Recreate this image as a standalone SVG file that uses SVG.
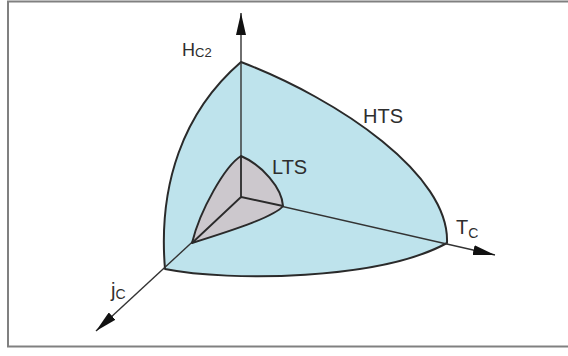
<svg xmlns="http://www.w3.org/2000/svg" width="568" height="356" viewBox="0 0 568 356">
  <style>
    .frame { fill: none; stroke: #808080; stroke-width: 2; }
    .hts { fill: #bee3ec; stroke: #2a2a2a; stroke-width: 2; stroke-linejoin: round; }
    .lts { fill: #ccc8cd; stroke: #2a2a2a; stroke-width: 2; stroke-linejoin: round; }
    .axis { fill: none; stroke: #333; stroke-width: 1.4; }
    .edge { fill: none; stroke: #2a2a2a; stroke-width: 1.8; }
    .lbl { font-family: "Liberation Sans", Arial, sans-serif; fill: #2e2e2e; }
  </style>
  <defs>
    <marker id="arrow" markerUnits="userSpaceOnUse" viewBox="0 0 22 10" refX="22" refY="5" markerWidth="22" markerHeight="10" orient="auto">
      <path d="M0,0 L22,5 L0,10 Z" fill="#111"/>
    </marker>
  </defs>
  <rect width="568" height="356" fill="#fff"/>
  <rect class="frame" x="8" y="1.5" width="570" height="345"/>

  <g id="hts-region">
    <path class="hts" d="M241,62 C340,100 450,175 447,243 C380,280 230,282 165,269 C158,185 183,112 241,62 Z"/>
  </g>

  <g id="connectors">
    <line class="axis" x1="241" y1="197" x2="241" y2="13" marker-end="url(#arrow)"/>
    <line class="axis" x1="241" y1="197" x2="495" y2="255" marker-end="url(#arrow)"/>
    <line class="axis" x1="241" y1="197" x2="96" y2="331" marker-end="url(#arrow)"/>
  </g>

  <g id="lts-region">
    <path class="lts" d="M241,156 C262,165 282,188 283,206 C275,216 240,228 192,243 C200,210 225,166 241,156 Z"/>
    <path class="edge" d="M241,156 L241,197 L283,206 M241,197 L192,243"/>
  </g>

  <g id="label-hc2">
    <text class="lbl" x="182" y="56" font-size="18">H<tspan font-size="13" dy="1">C2</tspan></text>
  </g>
  <g id="label-hts">
    <text class="lbl" x="363" y="123" font-size="20">HTS</text>
  </g>
  <g id="label-lts">
    <text class="lbl" x="272" y="174" font-size="20">LTS</text>
  </g>
  <g id="label-tc">
    <text class="lbl" x="456" y="234" font-size="20">T<tspan font-size="14" dy="4">C</tspan></text>
  </g>
  <g id="label-jc">
    <text class="lbl" x="111" y="297" font-size="20">j<tspan font-size="14" dy="2">C</tspan></text>
  </g>
</svg>
